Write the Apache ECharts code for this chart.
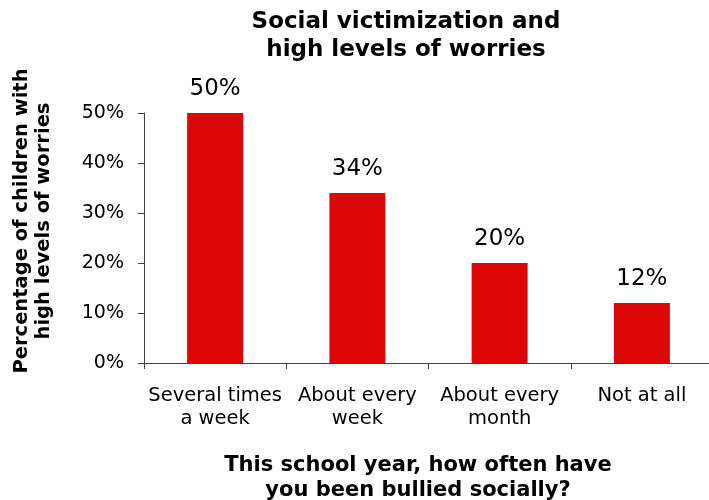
<!DOCTYPE html>
<html>
<head>
<meta charset="utf-8">
<script src="https://cdn.jsdelivr.net/npm/echarts@6/dist/echarts.min.js"></script>
<style>
  html, body { margin: 0; padding: 0; background: #fff; }
  #chart { width: 709px; height: 500px; }
</style>
</head>
<body>
<div id="chart"></div>
<script>
  // 类别与数值
  var categories = ['Several times\na week', 'About every\nweek', 'About every\nmonth', 'Not at all']
  var values = [50, 34, 20, 12]
  var yTicks = [0, 10, 20, 30, 40, 50]

  var font = 'DejaVu Sans, Verdana, sans-serif'
  var chart = echarts.init(document.getElementById('chart'))
  var option = {
    animation: false,
    title: {
      text: 'Social victimization and\nhigh levels of worries',
      left: 401,
      textAlign: 'center',
      top: 3,
      textStyle: {
        fontFamily: font,
        fontSize: 23,
        fontWeight: 'bold',
        color: '#000',
        lineHeight: 28
      }
    },
    grid: {
      left: 144,
      top: 113,
      width: 569,
      height: 250,
      outerBoundsMode: 'none'
    },
    // 纵轴标题
    graphic: [
      {
        type: 'text',
        x: 33,
        y: 221,
        rotation: Math.PI / 2,
        style: {
          text: 'Percentage of children with\nhigh levels of worries',
          align: 'center',
          verticalAlign: 'middle',
          fontFamily: font,
          fontSize: 19.5,
          fontWeight: 'bold',
          fill: '#000',
          lineHeight: 22
        }
      }
    ],
    xAxis: {
      type: 'category',
      data: categories,
      name: 'This school year, how often have\nyou been bullied socially?',
      nameLocation: 'middle',
      nameGap: 90,
      nameTextStyle: {
        fontFamily: font,
        fontSize: 21,
        fontWeight: 'bold',
        color: '#000',
        lineHeight: 25,
        padding: [0, 21, 0, 0]
      },
      axisLine: { lineStyle: { color: '#404040', width: 1 } },
      axisTick: { show: true, length: 6, lineStyle: { color: '#404040' } },
      axisLabel: {
        interval: 0,
        fontFamily: font,
        fontSize: 19.5,
        color: '#000',
        lineHeight: 23,
        margin: 21
      }
    },
    yAxis: {
      type: 'value',
      min: 0,
      max: 50,
      interval: 10,
      splitLine: { show: false },
      axisLine: { show: true, lineStyle: { color: '#404040', width: 1 } },
      axisTick: { show: true, length: 6, lineStyle: { color: '#404040' } },
      axisLabel: {
        fontFamily: font,
        fontSize: 19,
        color: '#000',
        margin: 20,
        formatter: function (v) {
          return yTicks.indexOf(v) >= 0 ? v + '%' : ''
        }
      }
    },
    series: [
      {
        type: 'bar',
        data: values,
        barWidth: 56,
        itemStyle: { color: '#dd0606' },
        label: {
          show: true,
          position: 'top',
          distance: 12,
          fontFamily: font,
          fontSize: 23,
          color: '#000',
          formatter: '{c}%'
        }
      }
    ]
  }
  chart.setOption(option)
</script>
</body>
</html>
